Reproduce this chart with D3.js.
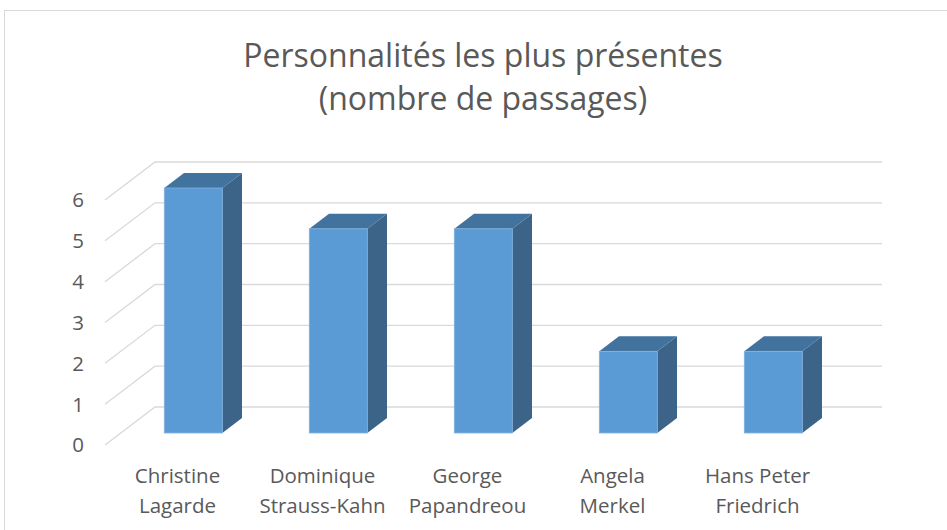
<!DOCTYPE html>
<html>
<head>
<meta charset="utf-8">
<script src="https://cdn.jsdelivr.net/npm/d3@7"></script>
<style>
  body { margin: 0; background: #fff; }
  text { font-family: "Open Sans", "Noto Sans", sans-serif; fill: #595959; }
</style>
</head>
<body>
<div id="chart"></div>
<script>
// data
const names = [
  ["Christine", "Lagarde"],
  ["Dominique", "Strauss-Kahn"],
  ["George", "Papandreou"],
  ["Angela", "Merkel"],
  ["Hans Peter", "Friedrich"]
];
const passages = [6, 5, 5, 2, 2];
const yTicks = [0, 1, 2, 3, 4, 5, 6];
const titleLines = ["Personnalités les plus présentes", "(nombre de passages)"];

const W = 947, H = 530;
const svg = d3.select("#chart").append("svg")
  .attr("width", W)
  .attr("height", H);

// chart frame
svg.append("rect")
  .attr("x", 4.5).attr("y", 10.5)
  .attr("width", W + 20).attr("height", H + 20)
  .attr("fill", "none")
  .attr("stroke", "#d9d9d9");

// title
svg.append("g").selectAll("text")
  .data(titleLines)
  .enter().append("text")
  .attr("x", 483)
  .attr("y", (d, i) => 67 + i * 43)
  .attr("text-anchor", "middle")
  .style("font-size", "32px")
  .text(d => d);

// pseudo 3D setup: front plane scales + depth offset
const depth = { dx: 50, dy: -38 };
const x = d3.scaleBand()
  .domain(names.map((d, i) => i))
  .range([105, 830])
  .paddingInner(0)
  .paddingOuter(0);
const y = d3.scaleLinear()
  .domain([0, 6])
  .range([445, 200]);

// gridlines: diagonal on side wall + horizontal on back wall
const grid = svg.append("g")
  .attr("stroke", "#d9d9d9")
  .attr("stroke-width", 1.3)
  .attr("fill", "none");

grid.selectAll("path")
  .data(yTicks)
  .enter().append("path")
  .attr("d", v => {
    const x0 = x.range()[0], x1 = x.range()[1];
    return `M${x0},${y(v)}L${x0 + depth.dx},${y(v) + depth.dy}L${x1 + depth.dx + 2},${y(v) + depth.dy}`;
  });

// y tick labels
svg.append("g").selectAll("text")
  .data(yTicks)
  .enter().append("text")
  .attr("x", 84)
  .attr("y", v => y(v))
  .attr("dy", "0.36em")
  .attr("text-anchor", "end")
  .style("font-size", "20.5px")
  .text(v => v);

// bars
const f1 = 0.316, f2 = 0.71;          // bar front / back depth fractions
const barW = x.bandwidth() * 0.4;
const bars = svg.append("g").selectAll("g")
  .data(passages)
  .enter().append("g");

function pt(xv, yv, f) {
  return [xv + depth.dx * f, yv + depth.dy * f];
}

bars.each(function (v, i) {
  const g = d3.select(this);
  const xl = x(i) + (x.bandwidth() - barW) / 2;
  const xr = xl + barW;
  const yt = y(v), yb = y(0);
  const p = (a, b, f) => pt(a, b, f).join(",");

  // side face
  g.append("path")
    .attr("d", `M${p(xr, yb, f1)}L${p(xr, yb, f2)}L${p(xr, yt, f2)}L${p(xr, yt, f1)}Z`)
    .attr("fill", "#3b6488");
  // top face
  g.append("path")
    .attr("d", `M${p(xl, yt, f1)}L${p(xl, yt, f2)}L${p(xr, yt, f2)}L${p(xr, yt, f1)}Z`)
    .attr("fill", "#42729e");
  // front face
  const [fx, fy] = pt(xl, yt, f1);
  g.append("rect")
    .attr("x", fx)
    .attr("y", fy)
    .attr("width", barW)
    .attr("height", yb - yt)
    .attr("fill", "#5b9bd5")
    .attr("stroke", "#7fb0de")
    .attr("stroke-width", 0.8);
});

// category labels
const labels = svg.append("g").selectAll("text")
  .data(names)
  .enter().append("text")
  .attr("x", (d, i) => x(i) + x.bandwidth() / 2)
  .attr("text-anchor", "middle")
  .style("font-size", "20.5px");

labels.selectAll("tspan")
  .data(d => d)
  .enter().append("tspan")
  .attr("x", function () { return d3.select(this.parentNode).attr("x"); })
  .attr("y", (d, i) => 483 + i * 30)
  .text(d => d);
</script>
</body>
</html>
